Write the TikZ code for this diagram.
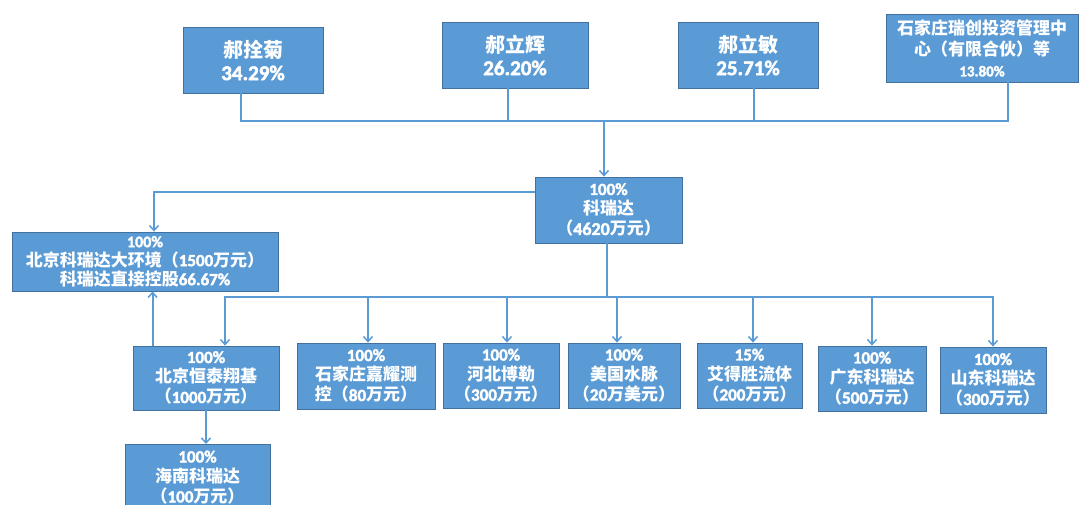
\documentclass[tikz,border=0pt]{standalone}
\usepackage{fontspec}
\setmainfont{Noto Sans CJK SC}
\newfontfamily\lat{Carlito}[FakeBold=2.2]
\usetikzlibrary{arrows.meta}
\definecolor{boxfill}{HTML}{5B9BD5}
\definecolor{boxline}{HTML}{41719C}
\definecolor{conn}{HTML}{5B9BD5}
\newcommand{\nm}[1]{{\lat #1}}
\begin{document}
\begin{tikzpicture}[x=1pt,y=-1pt,
  box/.style={rectangle,draw=boxline,line width=0.8pt,fill=boxfill,text=white,
    align=center,inner sep=0pt,font=\bfseries\fontsize{17}{20}\selectfont},
  topbox/.style={box,font=\bfseries\fontsize{20}{25}\selectfont},
  ln/.style={draw=conn,line width=2pt},
  arr/.style={ln,-{Straight Barb[length=5pt,width=9pt,line width=1.5pt]}}]
\useasboundingbox (0,0) rectangle (1081,504);
% top row
\node[topbox,minimum width=140pt,minimum height=66pt] (A) at (253,60)
  {郝拴菊\\[-2pt]\nm{\fontsize{21}{24}\selectfont 34.29\%}};
\node[topbox,minimum width=146pt,minimum height=66pt] (B) at (515,55)
  {郝立辉\\[-2pt]\nm{\fontsize{21}{24}\selectfont 26.20\%}};
\node[topbox,minimum width=140pt,minimum height=66pt] (C) at (748,55)
  {郝立敏\\[-2pt]\nm{\fontsize{21}{24}\selectfont 25.71\%}};
\node[box,minimum width=192pt,minimum height=68pt,font=\bfseries\fontsize{17}{21}\selectfont] (D) at (982,48)
  {石家庄瑞创投资管理中\\心（有限合伙）等\\\nm{\fontsize{15}{17}\selectfont 13.80\%}};
% middle
\node[box,minimum width=147pt,minimum height=66pt] (K) at (608.5,210)
  {\nm{\fontsize{17}{18}\selectfont 100\%}\\科瑞达\\（\nm{\fontsize{18}{20}\selectfont 4620}万元）};
\node[box,minimum width=266pt,minimum height=59pt,font=\bfseries\fontsize{17}{19}\selectfont] (L) at (145,261.5)
  {\nm{\fontsize{16}{16}\selectfont 100\%}\\北京科瑞达大环境（\nm{1500}万元）\\科瑞达直接控股\nm{66.67\%}};
% bottom row
\node[box,minimum width=146pt,minimum height=64pt] (B1) at (206,378)
  {\nm{\fontsize{17}{17}\selectfont 100\%}\\北京恒泰翔基\\（\nm{1000}万元）};
\node[box,minimum width=138pt,minimum height=66pt] (B2) at (366,376)
  {\nm{\fontsize{17}{17}\selectfont 100\%}\\石家庄嘉耀测\\控（\nm{80}万元）};
\node[box,minimum width=116pt,minimum height=65pt] (B3) at (501,375.5)
  {\nm{\fontsize{17}{17}\selectfont 100\%}\\河北博勒\\（\nm{300}万元）};
\node[box,minimum width=112pt,minimum height=65pt] (B4) at (624,375.5)
  {\nm{\fontsize{17}{17}\selectfont 100\%}\\美国水脉\\（\nm{20}万美元）};
\node[box,minimum width=105pt,minimum height=65pt] (B5) at (749.5,375.5)
  {\nm{\fontsize{17}{17}\selectfont 15\%}\\艾得胜流体\\（\nm{200}万元）};
\node[box,minimum width=108pt,minimum height=65pt] (B6) at (872,378.5)
  {\nm{\fontsize{17}{17}\selectfont 100\%}\\广东科瑞达\\（\nm{500}万元）};
\node[box,minimum width=106pt,minimum height=66pt] (B7) at (993,380)
  {\nm{\fontsize{17}{17}\selectfont 100\%}\\山东科瑞达\\（\nm{300}万元）};
\node[box,minimum width=145pt,minimum height=66pt,anchor=north] (H) at (197.5,444)
  {\nm{\fontsize{17}{17}\selectfont 100\%}\\海南科瑞达\\（\nm{100}万元）};
% connectors top
\coordinate (tbus) at (604,121);
\draw[ln] ([xshift=-12pt]A.south) |- (tbus);
\draw[ln] ([xshift=-7pt]B.south) -- ([xshift=-7pt]B.south |- tbus);
\draw[ln] ([xshift=6pt]C.south) -- ([xshift=6pt]C.south |- tbus);
\draw[ln] ([xshift=26pt]D.south) |- (tbus);
\draw[arr] (tbus) -- (tbus |- K.north);
% K to left box
\draw[arr] ([yshift=-15pt]K.north west) -| ([xshift=9pt]L.north);
% K to bottom bus
\coordinate (bbus) at (607,297);
\draw[ln] (bbus |- K.south) -- (bbus);
\draw[arr] (bbus) -| ([xshift=19pt]B1.north);
\draw[arr] (bbus) -| ([xshift=2pt]B2.north);
\draw[arr] (bbus) -| ([xshift=6pt]B3.north);
\draw[arr] (bbus) -| ([xshift=-7pt]B4.north);
\draw[arr] (bbus) -| ([xshift=3.5pt]B5.north);
\draw[arr] (bbus) -| (B6.north);
\draw[arr] (bbus) -| (B7.north);
% B1 up to left box, B1 down to H
\draw[arr] ([xshift=20pt]B1.north west) -- ([xshift=20pt]B1.north west |- L.south);
\draw[arr] (B1.south) -- (B1.south |- H.north);
\end{tikzpicture}
\end{document}
